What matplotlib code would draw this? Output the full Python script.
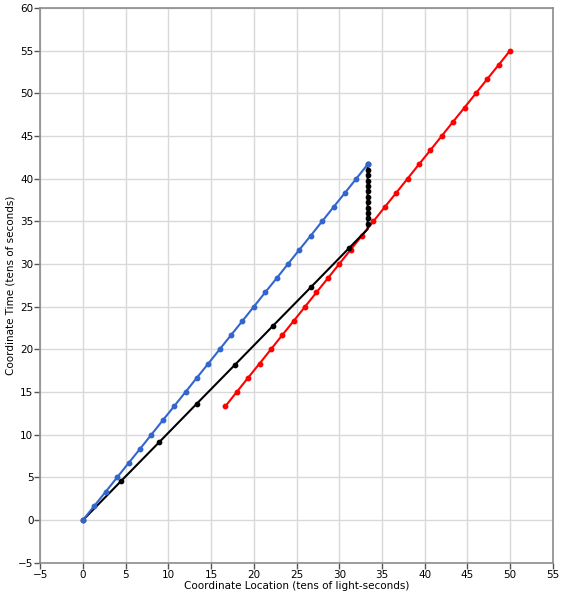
import matplotlib
matplotlib.use("Agg")
import matplotlib.pyplot as plt

blue_x = [0.00, 1.33, 2.67, 4.00, 5.33, 6.67, 8.00, 9.33, 10.67, 12.00, 13.33, 14.67, 16.00,
          17.33, 18.67, 20.00, 21.33, 22.67, 24.00, 25.33, 26.67, 28.00, 29.33, 30.67, 32.00, 33.33]
blue_y = [0.00, 1.67, 3.33, 5.00, 6.67, 8.33, 10.00, 11.67, 13.33, 15.00, 16.67, 18.33, 20.00,
          21.67, 23.33, 25.00, 26.67, 28.33, 30.00, 31.67, 33.33, 35.00, 36.67, 38.33, 40.00, 41.67]

black_x = [0.00, 4.44, 8.89, 13.33, 17.78, 22.22, 26.67, 31.11, 33.33,
           33.33, 33.33, 33.33, 33.33, 33.33, 33.33, 33.33, 33.33, 33.33, 33.33, 33.33, 33.33]
black_y = [0.00, 4.55, 9.09, 13.64, 18.18, 22.73, 27.27, 31.82, 34.09,
           34.72, 35.35, 35.98, 36.62, 37.25, 37.88, 38.51, 39.14, 39.77, 40.40, 41.04, 41.67]
black_mark = [True, True, True, True, True, True, True, True, False,
              True, True, True, True, True, True, True, True, True, True, True, True]

red_x = [16.67, 18.00, 19.33, 20.67, 22.00, 23.33, 24.67, 26.00, 27.33, 28.67, 30.00, 31.33, 32.67,
         34.00, 35.33, 36.67, 38.00, 39.33, 40.67, 42.00, 43.33, 44.67, 46.00, 47.33, 48.67, 50.00]
red_y = [13.33, 15.00, 16.67, 18.33, 20.00, 21.67, 23.33, 25.00, 26.67, 28.33, 30.00, 31.67, 33.33,
         35.00, 36.67, 38.33, 40.00, 41.67, 43.33, 45.00, 46.67, 48.33, 50.00, 51.67, 53.33, 55.00]

x_ticks = list(range(-5, 56, 5))
y_ticks = list(range(-5, 61, 5))

fig = plt.figure(figsize=(5.64, 6.0), dpi=100)
ax = fig.add_axes([0.0715, 0.0622, 0.9085, 0.9245])

ax.plot(red_x, red_y, color="#ff0000", lw=1.5, marker="o", ms=3.2, zorder=3)
ax.plot(black_x, black_y, color="black", lw=1.5, zorder=4)
mx = [x for x, m in zip(black_x, black_mark) if m]
my = [y for y, m in zip(black_y, black_mark) if m]
ax.plot(mx, my, ls="none", color="black", marker="o", ms=3.1, zorder=4)
ax.plot(blue_x, blue_y, color="#3366cc", lw=1.5, marker="o", ms=3.2, zorder=5)

ax.set_xlim(-5, 55)
ax.set_ylim(-5, 60)
ax.set_xticks(x_ticks)
ax.set_yticks(y_ticks)
ax.grid(True, color="#d9d9d9", lw=1.0, zorder=0)
ax.set_axisbelow(True)
for s in ax.spines.values():
    s.set_color("#8c8c8c")
    s.set_linewidth(1.2)
ax.tick_params(direction="out", length=4, width=1, color="#555555", labelsize=7.5, pad=1,
               labelcolor="black")
ax.set_xlabel("Coordinate Location (tens of light-seconds)", fontsize=7.5, labelpad=1)
ax.set_ylabel("Coordinate Time (tens of seconds)", fontsize=7.5, labelpad=2)

fig.savefig("out.png", dpi=100)
